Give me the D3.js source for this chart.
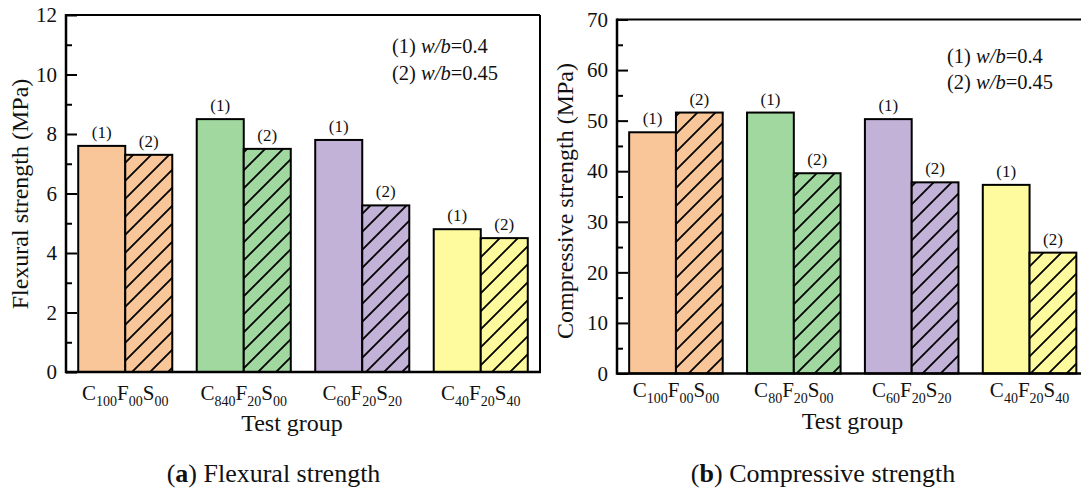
<!DOCTYPE html>
<html><head><meta charset="utf-8">
<script src="https://cdn.jsdelivr.net/npm/d3@7"></script>
<style>
body{margin:0;background:#fff;}
svg{display:block;}
text{font-family:"Liberation Serif","Times New Roman",serif;fill:#111;}
</style></head>
<body>
<svg id="chart" width="1081" height="491"></svg>
<script>
// ---- data ----
const categoriesA = ["C100F00S00","C840F20S00","C60F20S20","C40F20S40"];
const categoriesB = ["C100F00S00","C80F20S00","C60F20S20","C40F20S40"];
const seriesKeys = ["(1)","(2)"];
const flexural_wb040 = [7.6, 8.5, 7.8, 4.8];
const flexural_wb045 = [7.3, 7.5, 5.6, 4.5];
const compressive_wb040 = [47.7, 51.6, 50.3, 37.3];
const compressive_wb045 = [51.6, 39.6, 37.8, 23.9];
const ticksA = [0,2,4,6,8,10,12];
const minorA = [1,3,5,7,9,11];
const ticksB = [0,10,20,30,40,50,60,70];
const minorB = [5,15,25,35,45,55,65];
const groupColors = ["#F9C699","#A0D8A0","#C3B2D8","#FEFB9E"];
const legendLines = [["(1) ","w/b","=0.4"],["(2) ","w/b","=0.45"]];

const svg = d3.select("#chart");
svg.append("rect").attr("width",1081).attr("height",491).attr("fill","#fff");

const defs = svg.append("defs");
groupColors.forEach((c,i)=>{
  const p = defs.append("pattern").attr("id","hatch"+i)
    .attr("patternUnits","userSpaceOnUse").attr("width",18).attr("height",18);
  p.append("rect").attr("width",18).attr("height",18).attr("fill",c);
  p.append("path").attr("d","M0,18 L18,0 M-4.5,4.5 L4.5,-4.5 M13.5,22.5 L22.5,13.5")
    .attr("stroke","#000").attr("stroke-width",1.8);
});

function panel(opt){
  const g = svg.append("g");
  const x0 = d3.scaleBand().domain(opt.cats).range([opt.left,opt.right]).padding(0);
  const x1 = d3.scaleBand().domain(seriesKeys).range([0,x0.bandwidth()]).paddingInner(0).paddingOuter(0.26);
  const y = d3.scaleLinear().domain([0,opt.max]).range([opt.bottom,opt.top]);

  // bars
  const data = [];
  opt.cats.forEach((c,i)=>{
    data.push({c,i,k:"(1)",v:opt.s1[i]});
    data.push({c,i,k:"(2)",v:opt.s2[i]});
  });
  g.selectAll("rect.bar").data(data).join("rect").attr("class","bar")
    .attr("x",d=>x0(d.c)+x1(d.k))
    .attr("width",x1.bandwidth())
    .attr("y",d=>y(d.v))
    .attr("height",d=>y(0)-y(d.v))
    .attr("fill",d=>d.k==="(1)"?groupColors[d.i]:`url(#hatch${d.i})`)
    .attr("stroke","#000").attr("stroke-width",2);
  g.selectAll("text.blab").data(data).join("text").attr("class","blab")
    .attr("x",d=>x0(d.c)+x1(d.k)+x1.bandwidth()/2)
    .attr("y",d=>y(d.v)-8)
    .attr("text-anchor","middle").attr("font-size",17)
    .text(d=>d.k);

  // axes ticks
  const ax = g.append("g").attr("transform",`translate(${opt.left},0)`)
    .call(d3.axisLeft(y).tickValues(opt.ticks).tickSize(-11).tickPadding(9).tickFormat(d3.format("d")));
  ax.select(".domain").remove();
  ax.selectAll(".tick line").attr("stroke","#000").attr("stroke-width",2);
  ax.selectAll(".tick text").attr("font-size",21).attr("font-family","Liberation Serif").attr("fill","#111");
  const axm = g.append("g").attr("transform",`translate(${opt.left},0)`)
    .call(d3.axisLeft(y).tickValues(opt.minor).tickSize(-6).tickFormat(""));
  axm.select(".domain").remove();
  axm.selectAll(".tick line").attr("stroke","#000").attr("stroke-width",2);

  // frame
  g.append("line").attr("x1",opt.left).attr("x2",opt.right).attr("y1",opt.top).attr("y2",opt.top)
    .attr("stroke","#000").attr("stroke-width",2);
  g.append("line").attr("x1",opt.right).attr("x2",opt.right).attr("y1",opt.top).attr("y2",opt.bottom)
    .attr("stroke","#000").attr("stroke-width",2);
  g.append("line").attr("x1",opt.left).attr("x2",opt.left).attr("y1",opt.top-1).attr("y2",opt.bottom+1.25)
    .attr("stroke","#000").attr("stroke-width",2.5);
  g.append("line").attr("x1",opt.left).attr("x2",opt.right+1).attr("y1",opt.bottom).attr("y2",opt.bottom)
    .attr("stroke","#000").attr("stroke-width",2.5);

  // category labels with subscripts
  opt.cats.forEach(c=>{
    const t = g.append("text").attr("x",x0(c)+x0.bandwidth()/2).attr("y",opt.catY)
      .attr("text-anchor","middle").attr("font-size",21);
    const parts = [...c.matchAll(/([A-Z])(\d+)/g)];
    parts.forEach(m=>{
      t.append("tspan").attr("dy",0).attr("baseline-shift","0").text(m[1]);
      t.append("tspan").attr("font-size",14).attr("baseline-shift","-6").text(m[2]);
    });
  });

  // axis titles
  g.append("text").attr("x",opt.xtX).attr("y",opt.xtY).attr("text-anchor","middle")
    .attr("font-size",24).text("Test group");
  g.append("text").attr("transform",`translate(${opt.ytX},${opt.ytY}) rotate(-90)`)
    .attr("text-anchor","middle").attr("font-size",24).text(opt.ytitle);

  // legend
  legendLines.forEach((l,i)=>{
    const t = g.append("text").attr("x",opt.legX).attr("y",opt.legY[i]).attr("font-size",20.5);
    t.append("tspan").text(l[0]);
    t.append("tspan").attr("font-style","italic").text(l[1]);
    t.append("tspan").text(l[2]);
  });

  // caption
  const cap = g.append("text").attr("x",opt.capX).attr("y",482).attr("text-anchor","middle").attr("font-size",26);
  cap.append("tspan").text("(");
  cap.append("tspan").attr("font-weight","bold").text(opt.capLetter);
  cap.append("tspan").text(") "+opt.capText);
}

panel({cats:categoriesA,s1:flexural_wb040,s2:flexural_wb045,max:12,ticks:ticksA,minor:minorA,
  left:66,right:540,top:15,bottom:372,catY:400,xtX:292,xtY:431,ytX:28,ytY:194,
  ytitle:"Flexural strength (MPa)",legX:392,legY:[53,80],capX:273.5,capLetter:"a",capText:"Flexural strength"});
panel({cats:categoriesB,s1:compressive_wb040,s2:compressive_wb045,max:70,ticks:ticksB,minor:minorB,
  left:617,right:1088.5,top:19.5,bottom:373.5,catY:397,xtX:852.5,xtY:429,ytX:573,ytY:201,
  ytitle:"Compressive strength (MPa)",legX:947,legY:[63,89],capX:823,capLetter:"b",capText:"Compressive strength"});
</script>
</body></html>
